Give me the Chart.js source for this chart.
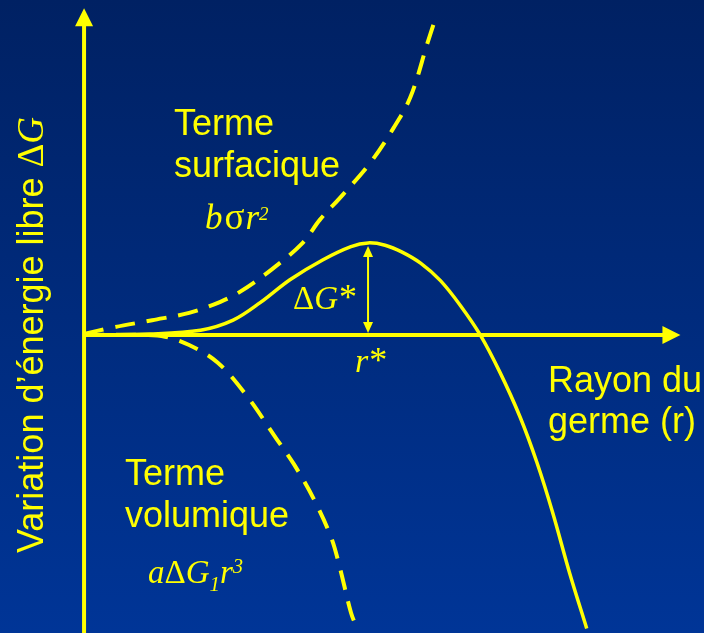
<!DOCTYPE html>
<html lang="fr">
<head>
<meta charset="UTF-8">
<title>Variation d'énergie libre - germe</title>
<script src="https://cdn.jsdelivr.net/npm/chart.js"></script>
<style>
  * { margin: 0; padding: 0; box-sizing: border-box; }
  html, body { width: 704px; height: 633px; overflow: hidden; }
  body { background: linear-gradient(to bottom, #002163 0%, #003597 100%); }
  .wrap { position: relative; width: 704px; height: 633px; }
</style>
</head>
<body>
<div class="wrap"><canvas id="chart"></canvas></div>
<script>
// rayon du germe r (unités arbitraires, r* = 10) et ΔG (ΔG* = 10)
const rSurf = [0, 1.0, 2.4, 3.7, 4.8, 5.5, 6.6, 7.7, 8.3, 9.1, 10.1, 10.9, 11.5, 12.1, 12.3];
const gSurf = [0.1, 0.8, 1.6, 2.4, 3.6, 4.7, 7.1, 10.0, 12.5, 15.2, 18.8, 22.5, 25.9, 31.8, 33.7];

const rVol = [0, 2.0, 2.85, 3.7, 4.7, 5.7, 6.8, 7.4, 8.1, 8.7, 9.0, 9.4, 9.6];
const gVol = [0, 0, -0.2, -1.1, -3.0, -6.5, -11.4, -14.1, -17.9, -22.0, -25.2, -30.2, -31.8];

const rTot = [0, 2.3, 4.1, 5.25, 6.2, 7.25, 8.4, 9.4, 10.0, 10.6, 11.2, 11.85, 12.55, 13.25, 13.95, 14.65, 15.35, 15.95, 16.5, 17.1, 17.7];
const gTot = [0, 0.1, 0.5, 1.6, 3.5, 6.0, 8.15, 9.6, 10.0, 9.75, 9.0, 7.8, 5.9, 3.2, 0, -4.1, -8.9, -13.9, -19.3, -25.9, -31.9];

const rStar = 10;
const gStar = 10;

// bornes des axes (invisibles) et pointes des flèches
const X_MIN = -2.96, X_MAX = 21.83;
const Y_MIN = -32.4, Y_MAX = 36.4;
const xArrowTip = 21.0;
const yArrowTip = 35.5;

const YELLOW = '#ffff00';
const SANS = '"Liberation Sans", Arial, sans-serif';
const SERIF = '"Liberation Serif", "Times New Roman", serif';

const pts = (xs, ys) => xs.map((x, i) => ({ x: x, y: ys[i] }));

function arrowHead(ctx, x, y, dx, dy, len, half) {
  // pointe en (x, y), direction (dx, dy) unitaire
  ctx.beginPath();
  ctx.moveTo(x, y);
  ctx.lineTo(x - dx * len - dy * half, y - dy * len + dx * half);
  ctx.lineTo(x - dx * len + dy * half, y - dy * len - dx * half);
  ctx.closePath();
  ctx.fill();
}

function drawRuns(ctx, x, y, runs) {
  let cx = x;
  runs.forEach(([txt, font, dy, gap]) => {
    ctx.font = font;
    ctx.fillText(txt, cx, y + (dy || 0));
    cx += ctx.measureText(txt).width + (gap || 0);
  });
}

const axesPlugin = {
  id: 'axesPlugin',
  beforeDatasetsDraw(chart) {
    const ctx = chart.ctx;
    const xs = chart.scales.x, ys = chart.scales.y;
    const x0 = xs.getPixelForValue(0), y0 = ys.getPixelForValue(0);
    const xt = xs.getPixelForValue(xArrowTip), yt = ys.getPixelForValue(yArrowTip);
    ctx.save();
    ctx.strokeStyle = YELLOW;
    ctx.fillStyle = YELLOW;
    ctx.lineWidth = 4;
    ctx.beginPath();
    ctx.moveTo(x0, chart.height);
    ctx.lineTo(x0, yt + 14);
    ctx.moveTo(x0 - 2, y0);
    ctx.lineTo(xt - 14, y0);
    ctx.stroke();
    arrowHead(ctx, x0, yt, 0, -1, 18, 9);
    arrowHead(ctx, xt, y0, 1, 0, 18, 9);
    ctx.restore();
  },
  afterDraw(chart) {
    const ctx = chart.ctx;
    const xs = chart.scales.x, ys = chart.scales.y;
    ctx.save();
    ctx.fillStyle = YELLOW;
    ctx.strokeStyle = YELLOW;

    // flèche ΔG*
    const ax = xs.getPixelForValue(rStar);
    const aTop = ys.getPixelForValue(gStar) + 3;
    const aBot = ys.getPixelForValue(0) - 2;
    ctx.lineWidth = 2;
    ctx.beginPath();
    ctx.moveTo(ax, aTop + 8);
    ctx.lineTo(ax, aBot - 8);
    ctx.stroke();
    arrowHead(ctx, ax, aTop, 0, -1, 11, 5);
    arrowHead(ctx, ax, aBot, 0, 1, 11, 5);

    ctx.textBaseline = 'alphabetic';
    ctx.textAlign = 'left';
    const sans = '36px ' + SANS;

    ctx.font = sans;
    ctx.fillText('Terme', 174, 135);
    ctx.fillText('surfacique', 174, 177);
    drawRuns(ctx, 205, 229, [
      ['b', 'italic 35px ' + SERIF, 0, 2],
      ['σ', '37px ' + SERIF, 0, 1],
      ['r', 'italic 35px ' + SERIF],
      ['2', 'italic 19px ' + SERIF, -9]
    ]);

    drawRuns(ctx, 293, 309, [
      ['Δ', '33px ' + SERIF],
      ['G', 'italic 33px ' + SERIF, 0, 1],
      ['*', '36px ' + SERIF]
    ]);
    drawRuns(ctx, 355, 372, [
      ['r', 'italic 34px ' + SERIF, 0, 1],
      ['*', '36px ' + SERIF]
    ]);

    ctx.font = sans;
    ctx.fillText('Rayon du', 548, 392);
    ctx.fillText('germe (r)', 548, 433);

    ctx.fillText('Terme', 125, 485);
    ctx.fillText('volumique', 125, 527);
    drawRuns(ctx, 148, 583, [
      ['a', 'italic 33px ' + SERIF],
      ['Δ', '33px ' + SERIF],
      ['G', 'italic 33px ' + SERIF],
      ['1', 'italic 21px ' + SERIF, 8],
      ['r', 'italic 33px ' + SERIF],
      ['3', 'italic 20px ' + SERIF, -10]
    ]);

    // titre de l'axe vertical
    ctx.translate(43, 553);
    ctx.rotate(-Math.PI / 2);
    drawRuns(ctx, 0, 0, [
      ['Variation d’énergie libre ', '36px ' + SANS],
      ['Δ', '37px ' + SERIF],
      ['G', 'italic 37px ' + SERIF]
    ]);
    ctx.restore();
  }
};

const dashed = [20, 12];

new Chart(document.getElementById('chart'), {
  type: 'scatter',
  data: {
    datasets: [
      {
        label: 'Terme surfacique',
        data: pts(rSurf, gSurf),
        showLine: true,
        borderColor: YELLOW,
        borderWidth: 4,
        borderDash: dashed,
        pointRadius: 0,
        tension: 0.35
      },
      {
        label: 'Terme volumique',
        data: pts(rVol, gVol),
        showLine: true,
        borderColor: YELLOW,
        borderWidth: 4,
        borderDash: dashed,
        pointRadius: 0,
        tension: 0.35
      },
      {
        label: 'ΔG',
        data: pts(rTot, gTot),
        showLine: true,
        borderColor: YELLOW,
        borderWidth: 3.5,
        pointRadius: 0,
        tension: 0.35
      }
    ]
  },
  options: {
    responsive: true,
    maintainAspectRatio: false,
    animation: false,
    layout: { padding: 0 },
    plugins: { legend: { display: false }, tooltip: { enabled: false } },
    scales: {
      x: { type: 'linear', min: X_MIN, max: X_MAX, display: false },
      y: { type: 'linear', min: Y_MIN, max: Y_MAX, display: false }
    }
  },
  plugins: [axesPlugin]
});
</script>
</body>
</html>
